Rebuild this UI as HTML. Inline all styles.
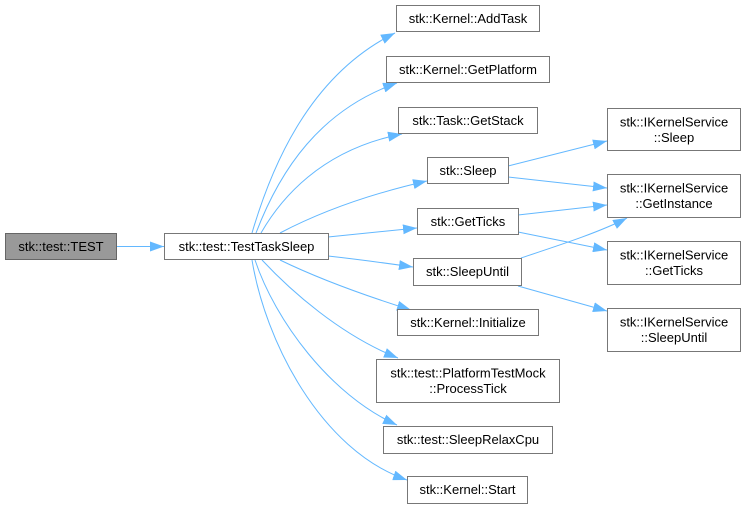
<!DOCTYPE html>
<html><head><meta charset="utf-8"><style>
html,body{margin:0;padding:0;background:#fff;}
svg{display:block;}
text{font-family:"Liberation Sans",Arial,sans-serif;font-size:13px;fill:#000;}
.b{fill:#fff;stroke:#777;stroke-width:1;}
.e{fill:none;stroke:#63b8ff;stroke-width:1;marker-end:url(#a);}
</style></head><body>
<svg width="745" height="509" viewBox="0 0 745 509" xmlns="http://www.w3.org/2000/svg">
<defs>
<marker id="a" viewBox="0 0 14 10" refX="14" refY="5" markerWidth="14" markerHeight="10" markerUnits="userSpaceOnUse" orient="auto">
<path d="M0,0 L14,5 L0,10 z" fill="#63b8ff"/>
</marker>
</defs>

<!-- edges -->
<path class="e" d="M117,246.5 L164,246.5"/>
<path class="e" d="M252,233 C272,165 310,75 395,33"/>
<path class="e" d="M256,233 C280,170 320,110 397,83"/>
<path class="e" d="M261,233 C280,200 320,150 402,134"/>
<path class="e" d="M280,233 C320,212 370,194 427,181"/>
<path class="e" d="M328,237 C355,234 385,231 417,228"/>
<path class="e" d="M328,256 C355,259 385,263 413,267"/>
<path class="e" d="M280,260 C315,277 360,294 411,310"/>
<path class="e" d="M262,260 C290,290 340,335 398,358"/>
<path class="e" d="M255,260 C275,320 330,395 397,425"/>
<path class="e" d="M252,260 C265,340 320,450 407,480"/>

<path class="e" d="M508,166 L607,141"/>
<path class="e" d="M508,177 L607,188"/>
<path class="e" d="M518,215 L607,205"/>
<path class="e" d="M518,232 L607,250"/>
<path class="e" d="M521,258 C560,245 600,232 627,218"/>
<path class="e" d="M518,286 L607,311"/>

<!-- nodes -->
<rect x="5.5" y="233.5" width="111" height="26" fill="#999" stroke="#666"/>
<text x="61" y="251" text-anchor="middle">stk::test::TEST</text>

<rect class="b" x="164.5" y="233.5" width="164" height="26"/>
<text x="246.5" y="251" text-anchor="middle">stk::test::TestTaskSleep</text>

<rect class="b" x="396.5" y="5.5" width="143" height="26"/>
<text x="468" y="23" text-anchor="middle">stk::Kernel::AddTask</text>

<rect class="b" x="386.5" y="56.5" width="163" height="26"/>
<text x="468" y="74" text-anchor="middle">stk::Kernel::GetPlatform</text>

<rect class="b" x="398.5" y="107.5" width="139" height="26"/>
<text x="468" y="125" text-anchor="middle">stk::Task::GetStack</text>

<rect class="b" x="427.5" y="157.5" width="81" height="26"/>
<text x="468" y="175" text-anchor="middle">stk::Sleep</text>

<rect class="b" x="417.5" y="208.5" width="101" height="26"/>
<text x="468" y="226" text-anchor="middle">stk::GetTicks</text>

<rect class="b" x="413.5" y="258.5" width="108" height="27"/>
<text x="467.5" y="276" text-anchor="middle">stk::SleepUntil</text>

<rect class="b" x="397.5" y="309.5" width="141" height="26"/>
<text x="468" y="327" text-anchor="middle">stk::Kernel::Initialize</text>

<rect class="b" x="376.5" y="359.5" width="183" height="43"/>
<text x="468" y="377.5" text-anchor="middle">stk::test::PlatformTestMock</text>
<text x="468" y="393" text-anchor="middle">::ProcessTick</text>

<rect class="b" x="383.5" y="426.5" width="169" height="27"/>
<text x="468" y="444" text-anchor="middle">stk::test::SleepRelaxCpu</text>

<rect class="b" x="407.5" y="476.5" width="120" height="27"/>
<text x="467.5" y="494" text-anchor="middle">stk::Kernel::Start</text>

<rect class="b" x="607.5" y="108.5" width="133" height="42"/>
<text x="674" y="126.5" text-anchor="middle">stk::IKernelService</text>
<text x="674" y="142" text-anchor="middle">::Sleep</text>

<rect class="b" x="607.5" y="174.5" width="133" height="43"/>
<text x="674" y="192.5" text-anchor="middle">stk::IKernelService</text>
<text x="674" y="208" text-anchor="middle">::GetInstance</text>

<rect class="b" x="607.5" y="241.5" width="133" height="43"/>
<text x="674" y="259.5" text-anchor="middle">stk::IKernelService</text>
<text x="674" y="275" text-anchor="middle">::GetTicks</text>

<rect class="b" x="607.5" y="308.5" width="133" height="43"/>
<text x="674" y="326.5" text-anchor="middle">stk::IKernelService</text>
<text x="674" y="342" text-anchor="middle">::SleepUntil</text>
</svg>
</body></html>
